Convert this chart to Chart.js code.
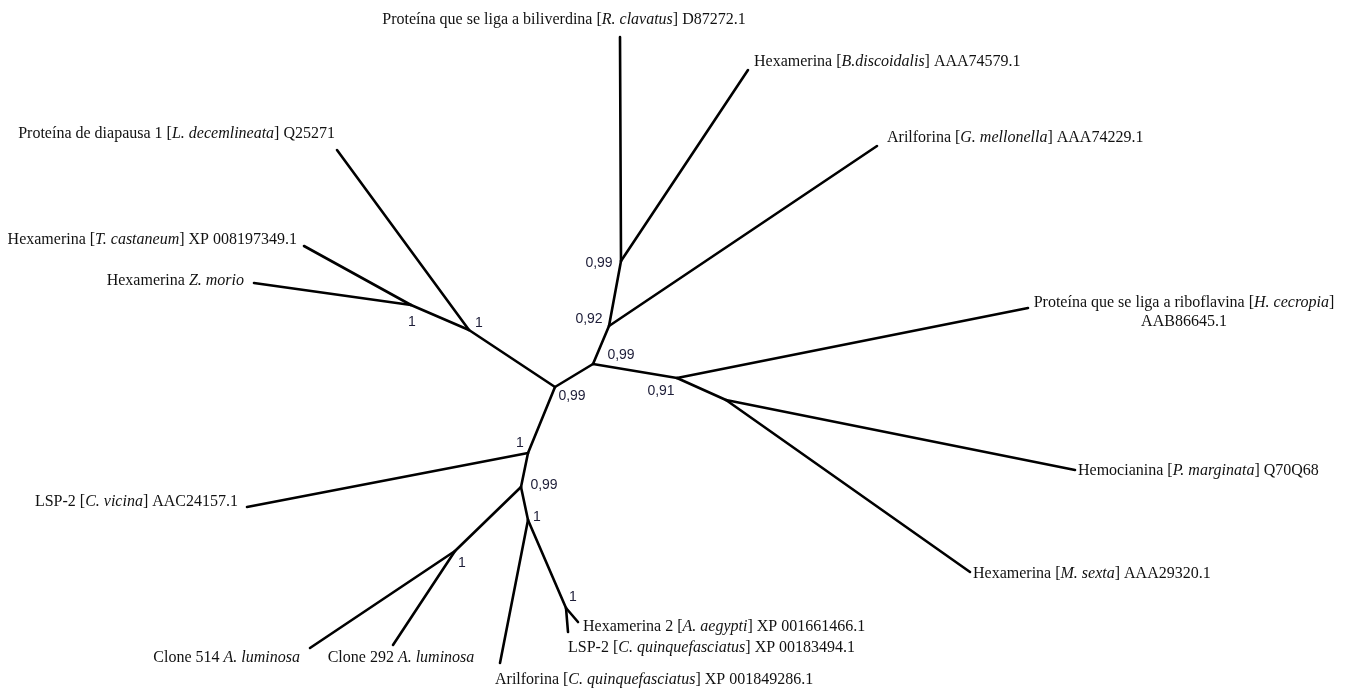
<!DOCTYPE html>
<html>
<head>
<meta charset="utf-8">
<title>Árvore filogenética — hexamerinas</title>
<script src="https://cdn.jsdelivr.net/npm/chart.js@4/dist/chart.umd.min.js"></script>
<style>
  html, body { margin: 0; padding: 0; background: #ffffff; }
  #wrap { position: relative; width: 1347px; height: 691px; }
</style>
</head>
<body>
<div id="wrap"><canvas id="tree"></canvas></div>
<script>
// Tree layout (unrooted), coordinates in layout units.
const nodeIds = ['A', 'L1', 'L2', 'B', 'C', 'D', 'E', 'F', 'G', 'H', 'I', 'J', 'K',
  't1', 't2', 't3', 't4', 't5', 't6', 't7', 't8', 't9', 't10', 't11', 't12', 't13', 't14', 't15'];
const nodeX = [555, 411, 469, 593, 609, 621, 677, 726, 528, 521, 528, 455, 566,
  620, 748, 877, 1028, 1075, 970, 578, 568, 500, 393, 310, 247, 254, 304, 337];
const nodeY = [387, 305, 330, 364, 326, 261, 378, 400, 453, 487, 520, 551, 608,
  37, 70, 146, 308, 470, 572, 622, 632, 663, 645, 648, 507, 283, 246, 150];

// Branches as parent -> child pairs
const edgeFrom = ['A', 'A', 'A', 'L2', 'L2', 'L1', 'L1', 'B', 'B', 'C', 'C', 'D', 'D',
  'E', 'E', 'F', 'F', 'G', 'G', 'H', 'H', 'J', 'J', 'I', 'I', 'K', 'K'];
const edgeTo = ['L2', 'B', 'G', 't15', 'L1', 't14', 't13', 'C', 'E', 'D', 't3', 't1', 't2',
  't4', 'F', 't5', 't6', 't12', 'H', 'J', 'I', 't11', 't10', 't9', 'K', 't7', 't8'];

// Terminal labels (*...* = italic)
const tipIds = ['t1', 't2', 't3', 't4', 't5', 't6', 't7', 't8', 't9', 't10', 't11', 't12', 't13', 't14', 't15'];
const tipLabels = [
  ['Proteína que se liga a biliverdina [*R. clavatus*] D87272.1'],
  ['Hexamerina [*B.discoidalis*] AAA74579.1'],
  ['Arilforina [*G. mellonella*] AAA74229.1'],
  ['Proteína que se liga a riboflavina [*H. cecropia*]', 'AAB86645.1'],
  ['Hemocianina [*P. marginata*] Q70Q68'],
  ['Hexamerina [*M. sexta*] AAA29320.1'],
  ['Hexamerina 2 [*A. aegypti*] XP 001661466.1'],
  ['LSP-2 [*C. quinquefasciatus*] XP 00183494.1'],
  ['Arilforina [*C. quinquefasciatus*] XP 001849286.1'],
  ['Clone 292 *A. luminosa*'],
  ['Clone 514 *A. luminosa*'],
  ['LSP-2 [*C. vicina*] AAC24157.1'],
  ['Hexamerina *Z. morio*'],
  ['Hexamerina [*T. castaneum*] XP 008197349.1'],
  ['Proteína de diapausa 1 [*L. decemlineata*] Q25271']
];

// Posterior support at internal nodes
const supportNodes = ['D', 'C', 'B', 'E', 'A', 'L1', 'L2', 'G', 'H', 'I', 'J', 'K'];
const supportValues = ['0,99', '0,92', '0,99', '0,91', '0,99', '1', '1', '1', '0,99', '1', '1', '1'];

// Label placement (pixel offsets from node, alignment)
const tipPlacement = {
  t1: { dx: -56, dy: -17, align: 'center' },
  t2: { dx: 6, dy: -8, align: 'left' },
  t3: { dx: 10, dy: -8, align: 'left' },
  t4: { dx: 156, dy: -5, align: 'center' },
  t5: { dx: 3, dy: 1, align: 'left' },
  t6: { dx: 3, dy: 2, align: 'left' },
  t7: { dx: 5, dy: 5, align: 'left' },
  t8: { dx: 0, dy: 16, align: 'left' },
  t9: { dx: -5, dy: 17, align: 'left' },
  t10: { dx: 8, dy: 13, align: 'center' },
  t11: { dx: -10, dy: 10, align: 'right' },
  t12: { dx: -9, dy: -5, align: 'right' },
  t13: { dx: -10, dy: -2, align: 'right' },
  t14: { dx: -7, dy: -6, align: 'right' },
  t15: { dx: -2, dy: -16, align: 'right' }
};
const supportPlacement = {
  D: { dx: -22, dy: 2 }, C: { dx: -20, dy: -7 }, B: { dx: 28, dy: -9 }, E: { dx: -16, dy: 13 },
  A: { dx: 17, dy: 9 }, L1: { dx: 1, dy: 17 }, L2: { dx: 10, dy: -7 }, G: { dx: -8, dy: -10 },
  H: { dx: 23, dy: -2 }, I: { dx: 9, dy: -3 }, J: { dx: 7, dy: 12 }, K: { dx: 7, dy: -11 }
};

const pos = id => { const i = nodeIds.indexOf(id); return { x: nodeX[i], y: nodeY[i] }; };

const datasets = edgeFrom.map((f, i) => ({
  data: [pos(f), pos(edgeTo[i])],
  showLine: true,
  borderColor: '#000000',
  borderWidth: 2.6,
  borderCapStyle: 'round',
  pointRadius: 0,
  pointHoverRadius: 0,
  fill: false
}));

const SERIF = '"Liberation Serif", "Times New Roman", serif';
const LABEL_SIZE = 16;
const LINE_GAP = 19;

function parseRich(s) {
  const parts = s.split('*');
  return parts.map((t, i) => ({ text: t, italic: i % 2 === 1 })).filter(p => p.text.length);
}

function drawRich(ctx, str, x, y, align, size) {
  const segs = parseRich(str);
  let total = 0;
  segs.forEach(sg => {
    ctx.font = (sg.italic ? 'italic ' : '') + size + 'px ' + SERIF;
    sg.w = ctx.measureText(sg.text).width;
    total += sg.w;
  });
  let cx = align === 'left' ? x : align === 'right' ? x - total : x - total / 2;
  ctx.textAlign = 'left';
  ctx.textBaseline = 'middle';
  segs.forEach(sg => {
    ctx.font = (sg.italic ? 'italic ' : '') + size + 'px ' + SERIF;
    ctx.fillText(sg.text, cx, y);
    cx += sg.w;
  });
}

const treeLabels = {
  id: 'treeLabels',
  afterDatasetsDraw(chart) {
    const { ctx, scales: { x, y } } = chart;
    ctx.save();
    ctx.fillStyle = '#111111';
    tipIds.forEach((id, i) => {
      const p = pos(id), pl = tipPlacement[id];
      const px = x.getPixelForValue(p.x) + pl.dx;
      const py = y.getPixelForValue(p.y) + pl.dy;
      tipLabels[i].forEach((line, k) => drawRich(ctx, line, px, py + k * LINE_GAP, pl.align, LABEL_SIZE));
    });
    ctx.fillStyle = '#1d1d38';
    ctx.font = '14px "Liberation Sans", Arial, sans-serif';
    ctx.textAlign = 'center';
    ctx.textBaseline = 'middle';
    supportNodes.forEach((id, i) => {
      const p = pos(id), pl = supportPlacement[id];
      ctx.fillText(supportValues[i], x.getPixelForValue(p.x) + pl.dx, y.getPixelForValue(p.y) + pl.dy);
    });
    ctx.restore();
  }
};

new Chart(document.getElementById('tree'), {
  type: 'scatter',
  data: { datasets },
  options: {
    responsive: true,
    maintainAspectRatio: false,
    animation: false,
    events: [],
    layout: { padding: 0 },
    plugins: { legend: { display: false }, tooltip: { enabled: false } },
    scales: {
      x: { type: 'linear', min: 0, max: 1347, display: false },
      y: { type: 'linear', min: 0, max: 691, reverse: true, display: false }
    }
  },
  plugins: [treeLabels]
});
</script>
</body>
</html>
